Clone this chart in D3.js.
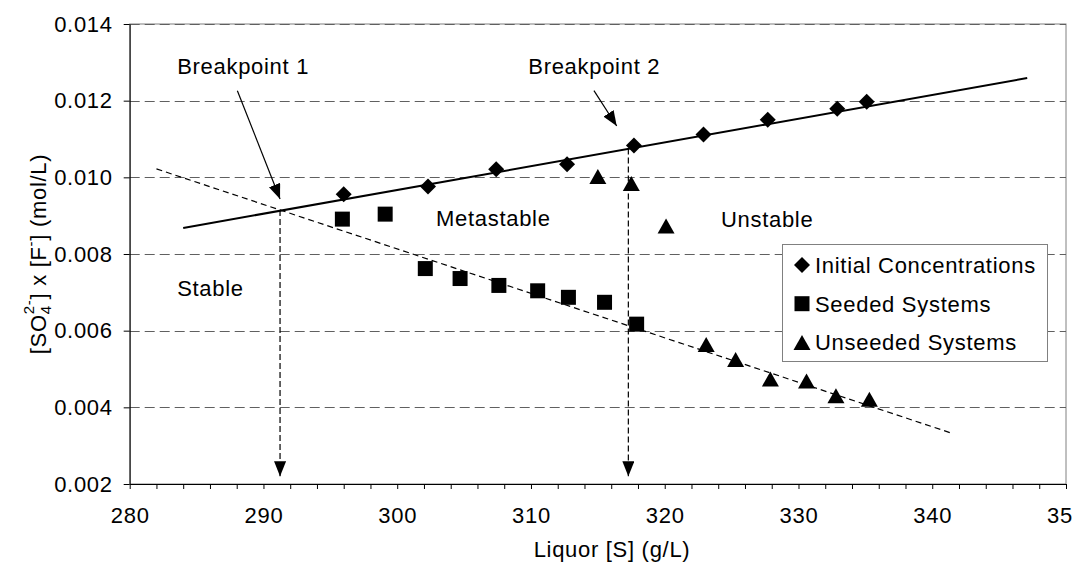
<!DOCTYPE html>
<html>
<head>
<meta charset="utf-8">
<script src="https://cdn.jsdelivr.net/npm/d3@7"></script>
<style>
  body { margin: 0; background: #fff; }
  svg text { font-family: "Liberation Sans", Arial, sans-serif; font-size: 22px; letter-spacing: 0.7px; fill: #000; }
</style>
</head>
<body>
<div id="chart"></div>
<script>

//
// data
//
var initialX   = [296.0, 302.3, 307.4, 312.7, 317.7, 322.9, 327.7, 332.9, 335.1];
var initialY   = [0.00956, 0.00976, 0.01021, 0.01034, 0.01083, 0.01112, 0.01150, 0.01179, 0.01197];

var seededX    = [295.9, 299.1, 302.1, 304.7, 307.6, 310.5, 312.8, 315.5, 317.9];
var seededY    = [0.00891, 0.00904, 0.00762, 0.00736, 0.00718, 0.00704, 0.00687, 0.00674, 0.00617];

var unseededX  = [315.0, 317.5, 320.1, 323.1, 325.3, 327.9, 330.6, 332.8, 335.3];
var unseededY  = [0.01002, 0.00984, 0.00873, 0.00564, 0.00525, 0.00474, 0.00469, 0.00430, 0.00421];

// trend lines (end points)
var solidTrendX  = [284.0, 347.1];
var solidTrendY  = [0.00868, 0.01259];
var dashedTrendX = [282.0, 341.5];
var dashedTrendY = [0.01022, 0.00332];

// breakpoints: x, where the dashed drop line starts, where its arrow ends
var breakpointX    = [291.24, 317.28];
var breakpointTopY = [0.009148, 0.01075];
var breakpointEndY = 0.0022;

var xTicks = [280, 290, 300, 310, 320, 330, 340, 350];
var yTicks = [0.002, 0.004, 0.006, 0.008, 0.010, 0.012, 0.014];

var seriesNames = ["Initial Concentrations", "Seeded Systems", "Unseeded Systems"];

var regionLabels = ["Breakpoint 1", "Breakpoint 2", "Metastable", "Stable", "Unstable"];
var regionLabelX = [283.55, 309.8, 302.9, 283.55, 324.2];
var regionLabelY = [0.012696, 0.012696, 0.00873, 0.006904, 0.008704];

// pointer arrows from the breakpoint labels
var pointerFromX = [288.05, 314.71];
var pointerFromY = [0.01226, 0.01226];
var pointerToX   = [291.24, 316.41];
var pointerToY   = [0.009435, 0.01134];


//
// setup / initialization
//
var width = 1073,
    height = 568,
    plotLeft = 129.7, plotRight = 1066,
    plotTop = 24, plotBottom = 484;

var svg = d3.select("#chart")
    .append("svg")
    .attr("width", width)
    .attr("height", height)
    .style("display", "block");

var x = d3.scaleLinear().domain([280, 350]).range([plotLeft, plotRight]);
var y = d3.scaleLinear().domain([0.002, 0.014]).range([plotBottom, plotTop]);

var defs = svg.append("defs");
defs.append("marker")
    .attr("id", "head")
    .attr("markerUnits", "userSpaceOnUse")
    .attr("markerWidth", 15)
    .attr("markerHeight", 12)
    .attr("refX", 15)
    .attr("refY", 6)
    .attr("orient", "auto")
    .append("path")
    .attr("d", "M0,0L15,6L0,12Z")
    .attr("fill", "#000");


//
// plot area: border + horizontal grid
//
svg.append("rect")
    .attr("x", plotLeft).attr("y", plotTop)
    .attr("width", plotRight - plotLeft).attr("height", plotBottom - plotTop)
    .attr("fill", "none")
    .attr("stroke", "#808080");

svg.append("g")
  .selectAll("line")
  .data(yTicks.slice(1))
  .enter()
  .append("line")
  .attr("x1", plotLeft).attr("x2", plotRight)
  .attr("y1", function(d) { return Math.round(y(d)) + 0.5 })
  .attr("y2", function(d) { return Math.round(y(d)) + 0.5 })
  .attr("stroke", "#606060")
  .attr("stroke-dasharray", "10,5");


//
// axes
//
var xAxis = svg.append("g")
    .attr("transform", "translate(0," + plotBottom + ")")
    .call(d3.axisBottom(x)
      .tickValues(d3.range(280, 351, 2))
      .tickSize(5)
      .tickSizeOuter(0)
      .tickPadding(18)
      .tickFormat(function(d) { return xTicks.indexOf(d) >= 0 ? d : "" }));

var yAxis = svg.append("g")
    .attr("transform", "translate(" + plotLeft + ",0)")
    .call(d3.axisLeft(y)
      .tickValues(yTicks)
      .tickSize(6)
      .tickSizeOuter(0)
      .tickPadding(11)
      .tickFormat(d3.format(".3f")));

xAxis.attr("font-size", null).attr("font-family", null);
yAxis.attr("font-size", null).attr("font-family", null);
svg.selectAll(".domain, .tick line").attr("stroke", "#000");


//
// axis titles
//
svg.append("text")
    .attr("x", 612)
    .attr("y", 557)
    .attr("text-anchor", "middle")
    .text("Liquor [S] (g/L)");

var yTitle = svg.append("text")
    .attr("transform", "translate(46," + ((plotTop + plotBottom) / 2) + ") rotate(-90)")
    .attr("text-anchor", "middle");
yTitle.append("tspan").text("[SO");
yTitle.append("tspan").attr("font-size", "15px").attr("dy", 5).text("4");
yTitle.append("tspan").attr("font-size", "15px").attr("dx", -9).attr("dy", -17).text("2-");
yTitle.append("tspan").attr("dy", 12).text("] x [F");
yTitle.append("tspan").attr("font-size", "15px").attr("dy", -10).text("-");
yTitle.append("tspan").attr("dy", 10).text("] (mol/L)");


//
// trend lines
//
var line = d3.line()
    .x(function(d) { return x(d[0]) })
    .y(function(d) { return y(d[1]) });

svg.append("path")
    .datum(d3.zip(solidTrendX, solidTrendY))
    .attr("d", line)
    .attr("fill", "none")
    .attr("stroke", "#000")
    .attr("stroke-width", 2);

svg.append("path")
    .datum(d3.zip(dashedTrendX, dashedTrendY))
    .attr("d", line)
    .attr("fill", "none")
    .attr("stroke", "#000")
    .attr("stroke-width", 1.2)
    .attr("stroke-dasharray", "6,4");


//
// breakpoint drop lines + pointer arrows
//
svg.append("g")
  .selectAll("line")
  .data(d3.zip(breakpointX, breakpointTopY))
  .enter()
  .append("line")
  .attr("x1", function(d) { return x(d[0]) })
  .attr("x2", function(d) { return x(d[0]) })
  .attr("y1", function(d) { return y(d[1]) })
  .attr("y2", y(breakpointEndY))
  .attr("stroke", "#000")
  .attr("stroke-width", 1.2)
  .attr("stroke-dasharray", "6,3")
  .attr("marker-end", "url(#head)");

svg.append("g")
  .selectAll("line")
  .data(d3.range(pointerFromX.length))
  .enter()
  .append("line")
  .attr("x1", function(i) { return x(pointerFromX[i]) })
  .attr("y1", function(i) { return y(pointerFromY[i]) })
  .attr("x2", function(i) { return x(pointerToX[i]) })
  .attr("y2", function(i) { return y(pointerToY[i]) })
  .attr("stroke", "#000")
  .attr("stroke-width", 1.2)
  .attr("marker-end", "url(#head)");

svg.append("g")
  .selectAll("text")
  .data(regionLabels)
  .enter()
  .append("text")
  .attr("x", function(d, i) { return x(regionLabelX[i]) })
  .attr("y", function(d, i) { return y(regionLabelY[i]) })
  .text(function(d) { return d });


//
// markers
//
var shapes = [
  "M0,-8L8,0L0,8L-8,0Z",
  "M-7.5,-7.5H7.5V7.5H-7.5Z",
  "M0,-7.5L8.5,7.5H-8.5Z"
];
var series = [
  d3.zip(initialX, initialY),
  d3.zip(seededX, seededY),
  d3.zip(unseededX, unseededY)
];

series.forEach(function(pts, s) {
  svg.append("g")
    .selectAll("path")
    .data(pts)
    .enter()
    .append("path")
    .attr("transform", function(d) { return "translate(" + x(d[0]) + "," + y(d[1]) + ")" })
    .attr("d", shapes[s])
    .attr("fill", "#000");
});


//
// legend
//
var legend = svg.append("g").attr("transform", "translate(782,244)");
legend.append("rect")
    .attr("x", 0.5).attr("y", 0.5)
    .attr("width", 265).attr("height", 117)
    .attr("fill", "#fff")
    .attr("stroke", "#808080");

var row = legend.selectAll("g.row")
    .data(seriesNames)
    .enter()
    .append("g")
    .attr("class", "row")
    .attr("transform", function(d, i) { return "translate(0," + (21 + i * 38.7) + ")" });

row.append("path")
    .attr("transform", "translate(20,0)")
    .attr("d", function(d, i) { return shapes[i] })
    .attr("fill", "#000");

row.append("text")
    .attr("x", 33)
    .attr("y", 8)
    .text(function(d) { return d });

</script>
</body>
</html>
